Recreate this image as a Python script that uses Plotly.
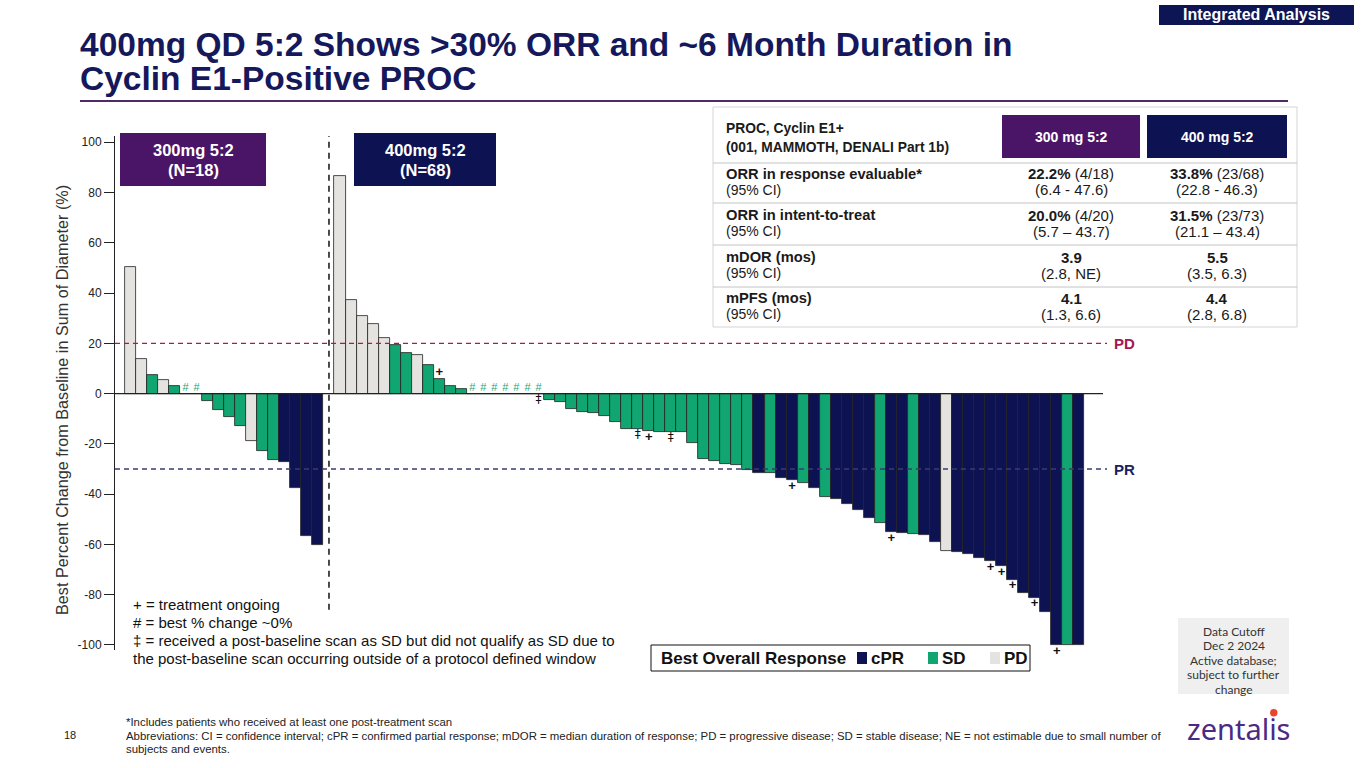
import plotly.graph_objects as go

# ------------------------------------------------------------------ data
group_labels = ["300mg 5:2", "400mg 5:2"]

vals_300 = [50.4, 13.9, 7.6, 5.6, 2.9, 0, 0, -3.1, -6.7, -9.1, -12.8, -18.7,
            -22.7, -26.4, -27.3, -37.7, -56.7, -60.3]
resp_300 = ["PD", "PD", "SD", "PD", "SD", "SD", "SD", "SD", "SD", "SD", "SD", "PD",
            "SD", "SD", "cPR", "cPR", "cPR", "cPR"]
hash_300 = [5, 6]

vals_400 = [86.7, 37.3, 30.8, 27.7, 22, 19.5, 16.3, 15.3, 11.3, 5.7, 2.9, 1.7,
            0, 0, 0, 0, 0, 0, 0,
            -2.7, -3.3, -6, -7.3, -7.7, -8.7, -11.1, -13.9, -13.9, -14.8, -15.1,
            -15.3, -15.3, -19.7, -26, -26.9, -28.1, -28.5, -30.3,
            -31.7, -31.7, -33.6, -34.5, -35.4, -37.4, -41.2, -42, -43.9, -46.3,
            -49.6, -51.6, -55.1, -55.3, -55.9, -56.2, -59.2, -62.5, -63, -63.7,
            -65.4, -66.7, -68.7, -74, -79.2, -81.2, -86.7, -100, -100, -100]
resp_400 = (["PD"] * 5 + ["SD", "SD", "PD"] + ["SD"] * 11 + ["SD"] * 19 +
            ["cPR", "SD", "cPR", "cPR", "SD", "cPR", "SD", "cPR", "cPR", "cPR", "cPR",
             "SD", "cPR", "cPR", "SD", "cPR", "cPR", "PD"] + ["cPR"] * 10 + ["SD", "cPR"])
hash_400 = [12, 13, 14, 15, 16, 17, 18]
plus_400 = [9, 28, 41, 50, 59, 60, 61, 63, 65]
dagger_400 = [18, 27, 30]

pd_threshold = 20
pr_threshold = -30

categories = ["cPR", "SD", "PD"]
cat_colors = {"cPR": "#0d1252", "SD": "#10a571", "PD": "#e5e3e0"}

y_ticks = [-100, -80, -60, -40, -20, 0, 20, 40, 60, 80, 100]
y_tick_text = ["-100", "-80", "-60", "-40", "-20", "0", "20", "40", "60", "80", "100"]

table_head = ["PROC, Cyclin E1+", "(001, MAMMOTH, DENALI Part 1b)"]
table_cols = ["300 mg 5:2", "400 mg 5:2"]
table_rows = ["ORR in response evaluable*", "ORR in intent-to-treat", "mDOR (mos)", "mPFS (mos)"]
table_sub = "(95% CI)"
c300_main = ["22.2%", "20.0%", "3.9", "4.1"]
c300_n = ["(4/18)", "(4/20)", "", ""]
c300_ci = ["(6.4 - 47.6)", "(5.7 \u2013 43.7)", "(2.8, NE)", "(1.3, 6.6)"]
c400_main = ["33.8%", "31.5%", "5.5", "4.4"]
c400_n = ["(23/68)", "(23/73)", "", ""]
c400_ci = ["(22.8 - 46.3)", "(21.1 \u2013 43.4)", "(3.5, 6.3)", "(2.8, 6.8)"]

notes = ["+ = treatment ongoing",
         "# = best % change ~0%",
         "\u2021 = received a post-baseline scan as SD but did not qualify as SD due to",
         "the post-baseline scan occurring outside of a protocol defined window"]
footer = ["*Includes patients who received at least one post-treatment scan",
          "Abbreviations: CI = confidence interval; cPR = confirmed partial response; mDOR = median duration of response; PD = progressive disease; SD = stable disease; NE = not estimable due to small number of",
          "subjects and events."]
cutoff = ["Data Cutoff", "Dec 2 2024", "Active database;", "subject to further", "change"]

# ------------------------------------------------------------------ layout helpers
W, H = 1365, 768
L, R, T, B = 115, 1107, 136, 650
FONT = "Liberation Sans, Arial, sans-serif"


def xp(px):
    return (px - L) / (R - L)


def yp(py):
    return (B - py) / (B - T)


gap = 1
x_300 = list(range(len(vals_300)))
x_400 = [len(vals_300) + gap + i for i in range(len(vals_400))]
sep_x = len(vals_300)

fig = go.Figure()

x_all = x_300 + x_400
v_all = vals_300 + vals_400
r_all = resp_300 + resp_400
fig.add_trace(go.Bar(
    x=x_all, y=v_all, width=1,
    marker=dict(color=[cat_colors[r] for r in r_all], line=dict(color="#222222", width=0.8)),
    showlegend=False, hoverinfo="skip"))

# marks
hx = [x_300[i] for i in hash_300] + [x_400[i] for i in hash_400]
hy = [vals_300[i] for i in hash_300] + [vals_400[i] for i in hash_400]
fig.add_trace(go.Scatter(x=hx, y=hy, mode="text", text=["#"] * len(hx),
                         textposition="top center", cliponaxis=False,
                         textfont=dict(family=FONT, size=11, color="#2aa57a"),
                         showlegend=False, hoverinfo="skip"))
px_ = [x_400[i] for i in plus_400]
py_ = [vals_400[i] for i in plus_400]
fig.add_trace(go.Scatter(x=px_, y=py_, mode="text", text=["<b>+</b>"] * len(px_),
                         textposition=["top center" if v > 0 else "bottom center" for v in py_],
                         cliponaxis=False,
                         textfont=dict(family=FONT, size=13, color="#111111"),
                         showlegend=False, hoverinfo="skip"))
dx = [x_400[i] for i in dagger_400]
dy = [vals_400[i] for i in dagger_400]
fig.add_trace(go.Scatter(x=dx, y=dy, mode="text", text=["\u2021"] * len(dx),
                         textposition="bottom center", cliponaxis=False,
                         textfont=dict(family="DejaVu Sans, sans-serif", size=12, color="#111111"),
                         showlegend=False, hoverinfo="skip"))

shapes = []
ann = []

# zero line, thresholds, separator
shapes.append(dict(type="line", xref="paper", yref="y", x0=0, x1=xp(1103), y0=0, y1=0,
                   line=dict(color="#222222", width=1.2), layer="above"))
shapes.append(dict(type="line", xref="paper", yref="y", x0=0, x1=1, y0=pd_threshold, y1=pd_threshold,
                   line=dict(color="#b0174e", width=1.4, dash="5px,4px")))
shapes.append(dict(type="line", xref="paper", yref="y", x0=0, x1=1, y0=pr_threshold, y1=pr_threshold,
                   line=dict(color="#3a3d6e", width=1.4, dash="5px,4px")))
shapes.append(dict(type="line", xref="x", yref="y", x0=sep_x, x1=sep_x, y0=-86, y1=102.5,
                   line=dict(color="#111111", width=1.5, dash="6px,5px")))
ann.append(dict(xref="paper", yref="y", x=xp(1112), y=pd_threshold, text="<b>PD</b>",
                xanchor="left", yanchor="middle", showarrow=False,
                font=dict(family=FONT, size=15, color="#a3184f")))
ann.append(dict(xref="paper", yref="y", x=xp(1112), y=pr_threshold, text="<b>PR</b>",
                xanchor="left", yanchor="middle", showarrow=False,
                font=dict(family=FONT, size=15, color="#1b1f5e")))


def rect(x0, y0, x1, y1, fill, line=None, lw=1):
    shapes.append(dict(type="rect", xref="paper", yref="paper",
                       x0=xp(x0), x1=xp(x1), y0=yp(y1), y1=yp(y0),
                       fillcolor=fill, line=dict(color=line or fill, width=lw if line else 0),
                       layer="above"))


def text(x, y, s, size, color="#1a1a1a", xa="left", bold=False, family=FONT, angle=0):
    ann.append(dict(xref="paper", yref="paper", x=xp(x), y=yp(y),
                    text=("<b>%s</b>" % s) if bold else s, xanchor=xa, yanchor="middle",
                    showarrow=False, textangle=angle,
                    font=dict(family=family, size=size, color=color)))


# group boxes
rect(120, 133, 266, 186, "#4a1566")
text(193, 150, group_labels[0], 16.5, "white", "center", True)
text(193, 170, "(N=%d)" % len(vals_300), 16.5, "white", "center", True)
rect(354, 133, 496, 186, "#0d1252")
text(425, 150, group_labels[1], 16.5, "white", "center", True)
text(425, 170, "(N=%d)" % len(vals_400), 16.5, "white", "center", True)

# title
text(78, 44.5, "400mg QD 5:2 Shows >30% ORR and ~6 Month Duration in", 33.5, "#15185a", "left", True)
text(78, 78.5, "Cyclin E1-Positive PROC", 33.5, "#15185a", "left", True)
shapes.append(dict(type="line", xref="paper", yref="paper", x0=xp(80), x1=xp(1288),
                   y0=yp(101), y1=yp(101), line=dict(color="#4e2a67", width=2)))

# integrated analysis tag
rect(1159, 5, 1354, 25, "#0e1555")
text(1256, 15, "Integrated Analysis", 16, "white", "center", True)

# table
rect(713, 107, 1297, 327, "white", "#d4d4d4", 1)
for yy in [163, 203, 245, 287]:
    shapes.append(dict(type="line", xref="paper", yref="paper", x0=xp(713), x1=xp(1297),
                       y0=yp(yy), y1=yp(yy), line=dict(color="#c4c4c4", width=1), layer="above"))
rect(1002, 115, 1140, 158, "#4a1566")
rect(1147, 115, 1287, 158, "#0d1252")
text(1071, 137, table_cols[0], 14, "white", "center", True)
text(1217, 137, table_cols[1], 14, "white", "center", True)
text(724, 128, table_head[0], 13.8, "#1a1a1a", "left", True)
text(724, 147, table_head[1], 13.8, "#1a1a1a", "left", True)
row_c = [182, 223, 265, 306]
for i, lab in enumerate(table_rows):
    c = row_c[i]
    text(724, c - 8, lab, 14.7, "#1a1a1a", "left", True)
    text(724, c + 8, table_sub, 14, "#1a1a1a", "left", False)
    for cx, m, n, ci in [(1071, c300_main[i], c300_n[i], c300_ci[i]),
                         (1217, c400_main[i], c400_n[i], c400_ci[i])]:
        s = "<b>%s</b>" % m + ((" " + n) if n else "")
        text(cx, c - 8, s, 15, "#1a1a1a", "center", False)
        text(cx, c + 8, ci, 15, "#1a1a1a", "center", False)

# y-axis title
text(62, 400, "Best Percent Change from Baseline in Sum of Diameter (%)", 16.2, "#333333", "center",
     False, angle=-90)

# notes
for i, s in enumerate(notes):
    text(131, 604 + 18 * i, s, 15, "#111111", "left")

# legend
rect(651, 645, 1030, 671, "white", "#111111", 1)
text(659, 658, "Best Overall Response", 17, "#111111", "left", True)
leg_x = [857, 928, 990]
for cx, cat in zip(leg_x, categories):
    rect(cx, 652, cx + 10, 664, cat_colors[cat])
    text(cx + 12, 658, cat, 17, "#111111", "left", True)

# data cutoff box
rect(1178, 618, 1289, 694, "#efefef")
for i, s in enumerate(cutoff):
    text(1233.5, 631 + 14.5 * i, s, 12, "#333333", "center", family="Lato, sans-serif")

# footer
for i, s in enumerate(footer):
    text(124, 722 + 13.5 * i, s, 11.4, "#222222", "left")
text(62, 735, "18", 11, "#222222", "left")

# logo
text(1239, 728, "zentalis", 29, "#4b2a84", "center", family="Noto Sans, sans-serif")
shapes.append(dict(type="circle", xref="paper", yref="paper",
                   x0=xp(1270), x1=xp(1277.5), y0=yp(716.5), y1=yp(709),
                   fillcolor="#e8452c", line=dict(width=0), layer="above"))

fig.update_layout(
    width=W, height=H,
    margin=dict(l=L, r=W - R, t=T, b=H - B, pad=0),
    plot_bgcolor="white", paper_bgcolor="white",
    font=dict(family=FONT, color="#222222"),
    xaxis=dict(range=[-1.406, 88.56], visible=False, fixedrange=True),
    yaxis=dict(range=[-102, 102.5], tickvals=y_ticks, ticktext=y_tick_text, ticks="outside",
               ticklen=10, tickwidth=1, tickcolor="#222222", showline=True, linecolor="#222222",
               linewidth=1, zeroline=False, showgrid=False, fixedrange=True,
               tickfont=dict(family=FONT, size=12, color="#222222")),
    shapes=shapes, annotations=ann, showlegend=False, bargap=0,
)

fig.write_html("out.html", config={"displayModeBar": False},
               post_script="document.body.style.margin='0';document.body.style.overflow='hidden';")
